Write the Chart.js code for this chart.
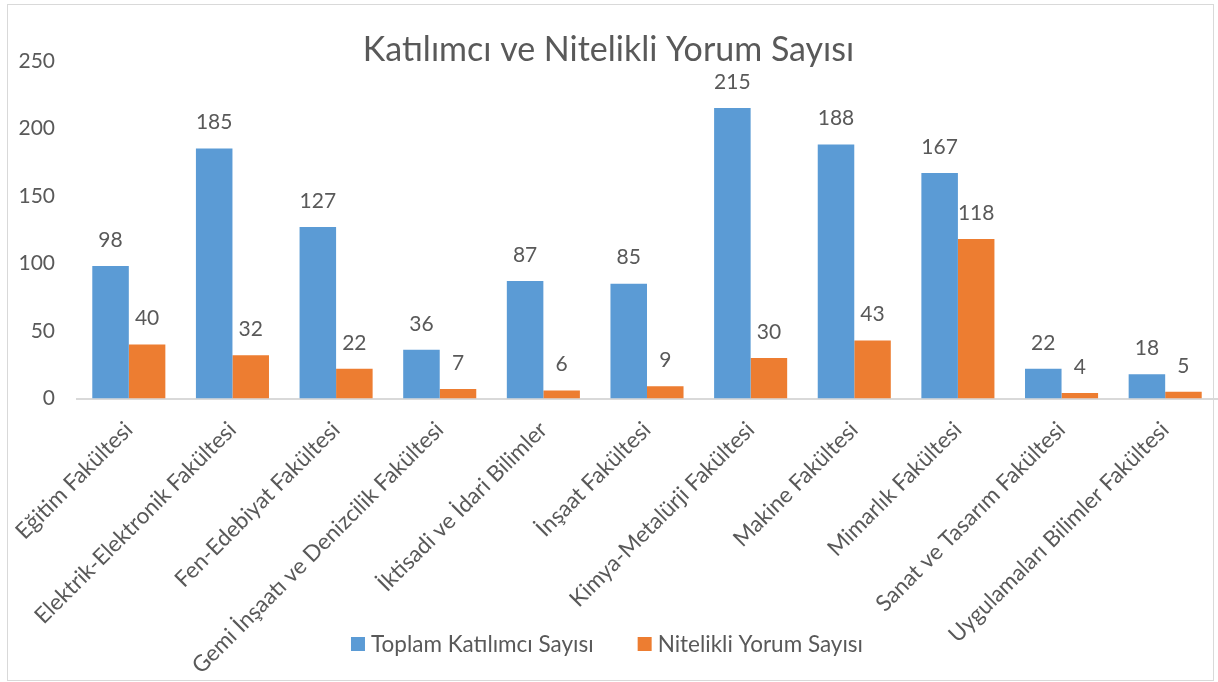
<!DOCTYPE html>
<html>
<head>
<meta charset="utf-8">
<script src="https://cdn.jsdelivr.net/npm/chart.js@4.4.1/dist/chart.umd.min.js"></script>
<style>
  html, body { margin: 0; padding: 0; background: #fff; }
  #wrap { position: relative; width: 1218px; height: 682px; }
  #marco { position: absolute; left: 7px; top: 4px; width: 1205px; height: 675px; border: 1px solid #d9d9d9; pointer-events: none; }
</style>
</head>
<body>
<div id="wrap">
  <canvas id="grafico" width="1218" height="682"></canvas>
  <div id="marco"></div>
</div>
<script>
const facultades = [
  "Eğitim Fakültesi",
  "Elektrik-Elektronik Fakültesi",
  "Fen-Edebiyat Fakültesi",
  "Gemi İnşaatı ve Denizcilik Fakültesi",
  "İktisadi ve İdari Bilimler",
  "İnşaat Fakültesi",
  "Kimya-Metalürji Fakültesi",
  "Makine Fakültesi",
  "Mimarlık Fakültesi",
  "Sanat ve Tasarım Fakültesi",
  "Uygulamaları Bilimler Fakültesi"
];
const toplamKatilimci = [98, 185, 127, 36, 87, 85, 215, 188, 167, 22, 18];
const nitelikliYorum = [40, 32, 22, 7, 6, 9, 30, 43, 118, 4, 5];
const yTicks = [0, 50, 100, 150, 200, 250];

const gris = "#595959";
const fuente = "Lato, 'Open Sans', sans-serif";

// etiquetas de valor encima de cada barra
const etiquetasValor = {
  id: "etiquetasValor",
  afterDatasetsDraw(chart) {
    const ctx = chart.ctx;
    ctx.save();
    ctx.font = "21px " + fuente;
    ctx.fillStyle = gris;
    ctx.textAlign = "center";
    ctx.textBaseline = "middle";
    chart.data.datasets.forEach((ds, i) => {
      const meta = chart.getDatasetMeta(i);
      meta.data.forEach((bar, j) => {
        ctx.fillText(ds.data[j], bar.x, bar.y - 26);
      });
    });
    ctx.restore();
  }
};

// leyenda abajo, encima de la zona de las etiquetas (como en Excel)
const leyendaAbajo = {
  id: "leyendaAbajo",
  afterDraw(chart) {
    const ctx = chart.ctx;
    const caja = 14, hueco = 6, sep = 44;
    const yCentro = 644;
    ctx.save();
    ctx.font = "22.5px " + fuente;
    ctx.textBaseline = "middle";
    ctx.textAlign = "left";
    const items = chart.data.datasets.map(ds => ({
      texto: ds.label,
      color: ds.backgroundColor,
      ancho: ctx.measureText(ds.label).width
    }));
    const total = items.reduce((a, it) => a + caja + hueco + it.ancho, 0) + sep * (items.length - 1);
    let x = 607 - total / 2;
    items.forEach(it => {
      ctx.fillStyle = it.color;
      ctx.fillRect(x, yCentro - caja / 2, caja, caja);
      ctx.fillStyle = gris;
      ctx.fillText(it.texto, x + caja + hueco, yCentro + 1);
      x += caja + hueco + it.ancho + sep;
    });
    ctx.restore();
  }
};

new Chart(document.getElementById("grafico"), {
  type: "bar",
  data: {
    labels: facultades,
    datasets: [
      {
        label: "Toplam Katılımcı Sayısı",
        data: toplamKatilimci,
        backgroundColor: "#5b9bd5",
        categoryPercentage: 0.705,
        barPercentage: 1.0
      },
      {
        label: "Nitelikli Yorum Sayısı",
        data: nitelikliYorum,
        backgroundColor: "#ed7d31",
        categoryPercentage: 0.705,
        barPercentage: 1.0
      }
    ]
  },
  options: {
    responsive: false,
    animation: false,
    layout: { padding: { left: 0, right: 1, top: 0, bottom: 0 } },
    plugins: {
      title: {
        display: true,
        text: "Katılımcı ve Nitelikli Yorum Sayısı",
        color: gris,
        font: { family: fuente, size: 34, weight: "normal" },
        padding: { top: 30, bottom: -10 }
      },
      legend: { display: false },
      tooltip: { enabled: false }
    },
    scales: {
      x: {
        grid: { display: false, drawTicks: false },
        border: { display: true, color: "#d9d9d9", width: 2 },
        ticks: {
          color: gris,
          font: { family: fuente, size: 22.5 },
          maxRotation: 45,
          minRotation: 45,
          autoSkip: false,
          padding: 18,
          labelOffset: 0
        },
        afterFit: s => { s.height = 283.5; s.paddingLeft = 0; s.paddingRight = 0; }
      },
      y: {
        min: 0,
        max: 250,
        grid: { display: false, drawTicks: false },
        border: { display: false },
        afterBuildTicks: s => { s.ticks = yTicks.map(v => ({ value: v })); },
        ticks: {
          color: gris,
          font: { family: fuente, size: 21 },
          padding: 22
        },
        afterFit: s => { s.width = 77; }
      }
    }
  },
  plugins: [etiquetasValor, leyendaAbajo]
});
</script>
</body>
</html>
